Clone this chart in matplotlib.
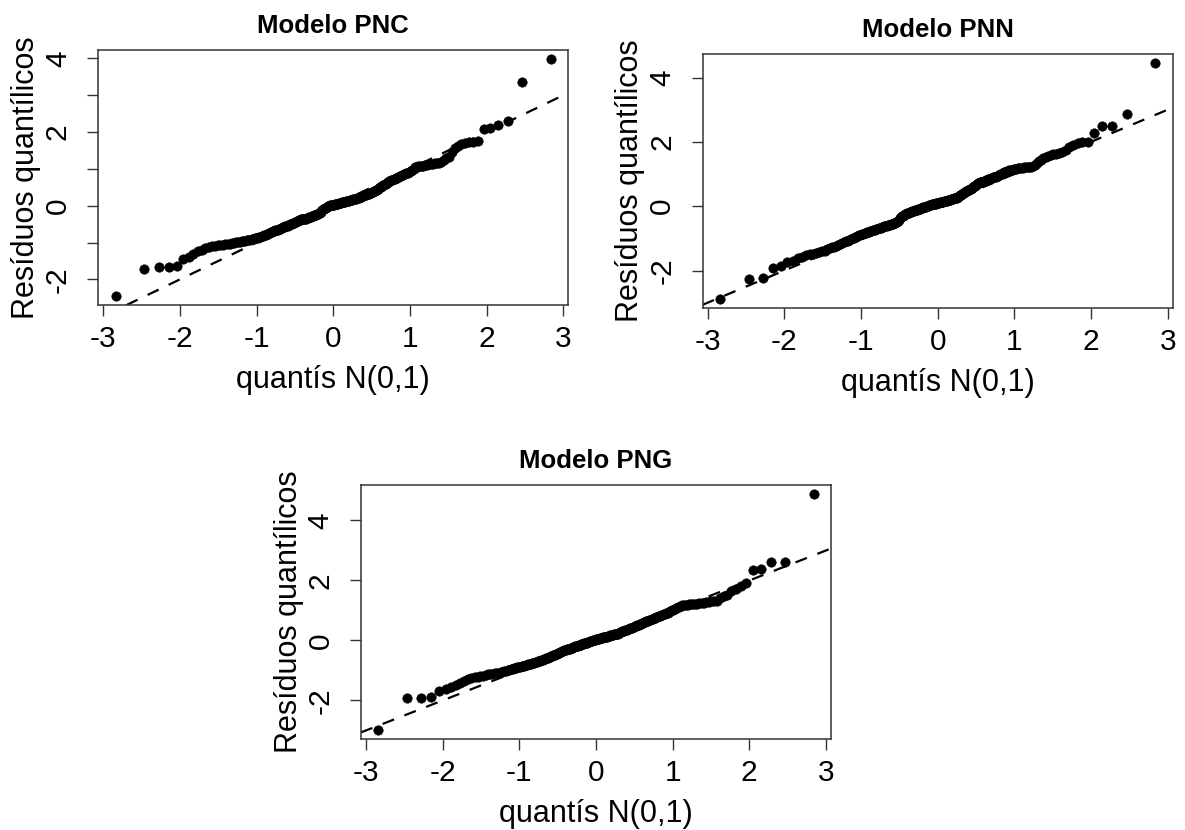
from statistics import NormalDist
import matplotlib
matplotlib.use("Agg")
import matplotlib.pyplot as plt
import numpy as np

plt.rcParams['font.family'] = ['Liberation Sans', 'DejaVu Sans']
plt.rcParams['axes.unicode_minus'] = False

# sorted quantile residuals (n = 220 per model)
res_pnc = [
    -2.44, -1.71, -1.66, -1.66, -1.65, -1.45, -1.38, -1.30, -1.24, -1.19,
    -1.15, -1.12, -1.10, -1.09, -1.08, -1.07, -1.06, -1.05, -1.04, -1.03,
    -1.02, -1.01, -0.99, -0.98, -0.975, -0.97, -0.96, -0.95, -0.94, -0.93,
    -0.92, -0.91, -0.90, -0.89, -0.88, -0.87, -0.86, -0.84, -0.83, -0.81,
    -0.80, -0.79, -0.77, -0.76, -0.74, -0.72, -0.71, -0.70, -0.69, -0.67,
    -0.66, -0.65, -0.64, -0.62, -0.61, -0.60, -0.59, -0.57, -0.56, -0.55,
    -0.54, -0.52, -0.51, -0.50, -0.49, -0.47, -0.46, -0.45, -0.43, -0.42,
    -0.41, -0.40, -0.39, -0.38, -0.37, -0.37, -0.36, -0.36, -0.35, -0.35,
    -0.34, -0.33, -0.32, -0.31, -0.30, -0.29, -0.28, -0.27, -0.26, -0.25,
    -0.24, -0.23, -0.22, -0.21, -0.20, -0.16, -0.14, -0.12, -0.10, -0.08,
    -0.06, -0.05, -0.03, -0.02, -0.01, 0.00, 0.01, 0.01, 0.02, 0.03,
    0.03, 0.04, 0.04, 0.05, 0.06, 0.06, 0.07, 0.08, 0.08, 0.09,
    0.09, 0.10, 0.11, 0.11, 0.12, 0.13, 0.13, 0.14, 0.15, 0.15,
    0.16, 0.16, 0.17, 0.18, 0.18, 0.19, 0.20, 0.21, 0.22, 0.23,
    0.24, 0.25, 0.26, 0.27, 0.28, 0.29, 0.30, 0.31, 0.32, 0.33,
    0.34, 0.35, 0.36, 0.37, 0.39, 0.40, 0.42, 0.44, 0.46, 0.48,
    0.50, 0.52, 0.54, 0.56, 0.58, 0.60, 0.62, 0.64, 0.66, 0.68,
    0.69, 0.70, 0.72, 0.73, 0.75, 0.76, 0.78, 0.80, 0.82, 0.84,
    0.85, 0.87, 0.88, 0.90, 0.92, 0.95, 0.98, 1.01, 1.04, 1.06,
    1.07, 1.08, 1.08, 1.09, 1.10, 1.11, 1.12, 1.13, 1.14, 1.15,
    1.16, 1.17, 1.20, 1.25, 1.29, 1.33, 1.45, 1.57, 1.62, 1.67,
    1.70, 1.72, 1.74, 1.76, 2.09, 2.12, 2.20, 2.31, 3.35, 3.97,
]

res_pnn = [
    -2.88, -2.27, -2.24, -1.92, -1.86, -1.72, -1.70, -1.62, -1.58, -1.53,
    -1.50, -1.48, -1.46, -1.42, -1.40, -1.38, -1.34, -1.30, -1.28, -1.26,
    -1.24, -1.21, -1.18, -1.15, -1.12, -1.09, -1.07, -1.05, -1.03, -1.00,
    -0.98, -0.96, -0.93, -0.91, -0.88, -0.86, -0.85, -0.83, -0.82, -0.81,
    -0.79, -0.78, -0.77, -0.75, -0.74, -0.73, -0.72, -0.70, -0.69, -0.68,
    -0.67, -0.66, -0.65, -0.63, -0.62, -0.61, -0.59, -0.58, -0.57, -0.56,
    -0.55, -0.54, -0.53, -0.51, -0.50, -0.48, -0.46, -0.42, -0.38, -0.34,
    -0.31, -0.29, -0.27, -0.25, -0.23, -0.22, -0.21, -0.20, -0.19, -0.18,
    -0.17, -0.16, -0.15, -0.14, -0.13, -0.12, -0.11, -0.10, -0.09, -0.08,
    -0.07, -0.06, -0.05, -0.04, -0.03, -0.02, -0.01, 0.00, 0.01, 0.02,
    0.03, 0.04, 0.05, 0.06, 0.06, 0.07, 0.08, 0.08, 0.09, 0.10,
    0.10, 0.11, 0.12, 0.12, 0.13, 0.14, 0.14, 0.15, 0.16, 0.17,
    0.17, 0.18, 0.19, 0.20, 0.20, 0.21, 0.22, 0.23, 0.24, 0.25,
    0.25, 0.26, 0.28, 0.30, 0.32, 0.34, 0.36, 0.38, 0.40, 0.42,
    0.44, 0.46, 0.47, 0.49, 0.50, 0.52, 0.54, 0.56, 0.58, 0.60,
    0.62, 0.64, 0.66, 0.69, 0.71, 0.73, 0.74, 0.75, 0.76, 0.78,
    0.79, 0.80, 0.82, 0.83, 0.84, 0.86, 0.87, 0.88, 0.90, 0.91,
    0.92, 0.93, 0.95, 0.97, 0.99, 1.01, 1.03, 1.05, 1.06, 1.08,
    1.09, 1.11, 1.12, 1.14, 1.16, 1.17, 1.17, 1.18, 1.19, 1.19,
    1.20, 1.21, 1.21, 1.22, 1.23, 1.23, 1.24, 1.28, 1.34, 1.40,
    1.45, 1.50, 1.54, 1.57, 1.59, 1.61, 1.63, 1.65, 1.70, 1.76,
    1.84, 1.90, 1.96, 1.99, 2.00, 2.28, 2.49, 2.50, 2.88, 4.44,
]

res_png = [
    -2.98, -1.91, -1.91, -1.87, -1.67, -1.62, -1.55, -1.47, -1.42, -1.35,
    -1.29, -1.26, -1.23, -1.21, -1.19, -1.17, -1.15, -1.13, -1.12, -1.11,
    -1.09, -1.08, -1.07, -1.06, -1.04, -1.03, -1.01, -0.99, -0.97, -0.96,
    -0.94, -0.93, -0.91, -0.90, -0.89, -0.88, -0.86, -0.85, -0.84, -0.83,
    -0.82, -0.80, -0.79, -0.77, -0.76, -0.75, -0.74, -0.72, -0.71, -0.70,
    -0.68, -0.67, -0.66, -0.64, -0.63, -0.62, -0.60, -0.59, -0.57, -0.56,
    -0.55, -0.53, -0.52, -0.50, -0.49, -0.47, -0.46, -0.44, -0.42, -0.41,
    -0.39, -0.38, -0.36, -0.35, -0.33, -0.32, -0.31, -0.30, -0.29, -0.28,
    -0.27, -0.26, -0.25, -0.24, -0.22, -0.21, -0.20, -0.19, -0.18, -0.17,
    -0.16, -0.15, -0.14, -0.13, -0.12, -0.11, -0.10, -0.09, -0.08, -0.07,
    -0.06, -0.05, -0.04, -0.03, -0.02, -0.01, 0.00, 0.01, 0.02, 0.03,
    0.04, 0.04, 0.05, 0.06, 0.07, 0.08, 0.09, 0.09, 0.10, 0.11,
    0.12, 0.13, 0.13, 0.14, 0.15, 0.16, 0.17, 0.18, 0.18, 0.19,
    0.20, 0.21, 0.21, 0.22, 0.23, 0.25, 0.26, 0.27, 0.29, 0.30,
    0.31, 0.33, 0.34, 0.35, 0.36, 0.38, 0.39, 0.40, 0.42, 0.43,
    0.44, 0.46, 0.47, 0.49, 0.50, 0.52, 0.53, 0.55, 0.56, 0.58,
    0.59, 0.61, 0.62, 0.64, 0.65, 0.66, 0.67, 0.69, 0.71, 0.73,
    0.74, 0.76, 0.78, 0.79, 0.81, 0.83, 0.84, 0.86, 0.88, 0.89,
    0.91, 0.93, 0.96, 0.98, 1.00, 1.03, 1.05, 1.08, 1.10, 1.13,
    1.15, 1.17, 1.18, 1.18, 1.19, 1.20, 1.21, 1.21, 1.22, 1.23,
    1.24, 1.25, 1.26, 1.28, 1.29, 1.30, 1.32, 1.33, 1.40, 1.47,
    1.53, 1.64, 1.72, 1.80, 1.91, 2.36, 2.39, 2.60, 2.60, 4.87,
]

titles = ['Modelo PNC', 'Modelo PNN', 'Modelo PNG']
xticks = [-3, -2, -1, 0, 1, 2, 3]
yticks_pnc = [-2, -1, 0, 1, 2, 3, 4]
yticks_other = [-2, 0, 2, 4]


def normal_quantiles(n):
    # same plotting positions as R's ppoints / qqnorm
    nd = NormalDist()
    a = 0.375 if n <= 10 else 0.5
    return np.array([nd.inv_cdf((i + 1 - a) / (n + 1 - 2 * a)) for i in range(n)])


def qq_panel(ax, res, title, yticks, ylabels):
    res = np.sort(np.array(res))
    q = normal_quantiles(len(res))
    ax.plot(q, res, 'o', color='black', ms=6.8, mew=0.4, linestyle='none')
    ax.axline((0, 0), slope=1, color='black', lw=1.6, dashes=(5.5, 5))
    ax.margins(x=0.04, y=0.04)

    ax.set_xticks(xticks)
    ax.set_xticklabels([str(t) for t in xticks])
    ax.set_yticks(yticks)
    ax.set_yticklabels(ylabels, rotation=90, va='center')
    ax.tick_params(axis='both', direction='out', length=8, width=1.0,
                   labelsize=21.5, color='#333333')
    ax.tick_params(axis='x', pad=6.5)
    ax.tick_params(axis='y', pad=11)
    for sp in ax.spines.values():
        sp.set_linewidth(1.1)
        sp.set_color('#333333')

    ax.set_xlabel('quantís N(0,1)', fontsize=22)
    ax.set_ylabel('Resíduos quantílicos', fontsize=22)
    ax.xaxis.set_label_coords(0.5, -0.235)
    ax.yaxis.set_label_coords(-0.122, 0.5)
    ax.set_title(title, fontsize=18.5, fontweight='bold', pad=12)


fig = plt.figure(figsize=(11.85, 8.3), dpi=100)
ax1 = fig.add_axes([0.0830, 0.6325, 0.3966, 0.3072])
ax2 = fig.add_axes([0.5930, 0.6286, 0.3966, 0.3064])
ax3 = fig.add_axes([0.3046, 0.1093, 0.3966, 0.3064])

qq_panel(ax1, res_pnc, titles[0], yticks_pnc, ['-2', '', '0', '', '2', '', '4'])
qq_panel(ax2, res_pnn, titles[1], yticks_other, [str(t) for t in yticks_other])
qq_panel(ax3, res_png, titles[2], yticks_other, [str(t) for t in yticks_other])

fig.savefig('out.png', dpi=100, facecolor='white')
